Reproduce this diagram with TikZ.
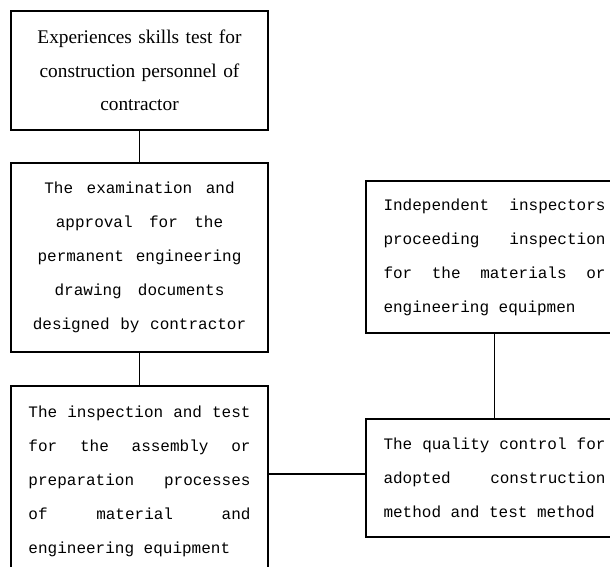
\documentclass[tikz,border=0pt]{standalone}
\usepackage{fontspec}
\setmainfont{Liberation Serif}
\newfontfamily\monof{Liberation Mono}
\tolerance=10000
\hbadness=10000

\begin{document}
\begin{tikzpicture}[x=0.75pt,y=-0.75pt,
  pbox/.style={draw,line width=0.8pt,inner xsep=0pt,inner ysep=0pt,minimum width=192.75pt},
  serifbox/.style={font={\fontsize{14.5}{25}\selectfont},text width=190pt,align=center},
  monobox/.style={font={\monof\fontsize{12}{25.5}\selectfont},text width=166.5pt,
    execute at begin node={\spaceskip=7.2pt plus 6pt\relax}},
  link/.style={line width=0.8pt}
  ] %[x,y in px of the picture]
\useasboundingbox (0,0) rectangle (610,567);
\clip (0,0) rectangle (610,567);

% left column
\node[pbox,serifbox,minimum height=89.25pt] (skill) at (139.5,70.5)
  {Experiences skills test for\\construction personnel of\\contractor};
\node[pbox,monobox,align=center,minimum height=141.75pt] (approval) at (139.5,257.5)
  {The examination and\\approval for the\\permanent engineering\\drawing documents\\designed by contractor};
\node[pbox,monobox,align=justify,minimum height=142.5pt] (assembly) at (139.5,481)
  {The inspection and test\linebreak for the assembly or\linebreak preparation processes\linebreak of material and\linebreak engineering equipment};

% right column
\node[pbox,monobox,align=justify,minimum height=114pt] (inspector) at (494.5,257)
  {Independent inspectors\linebreak proceeding inspection\linebreak for the materials or\linebreak engineering equipmen};
\node[pbox,monobox,align=justify,minimum height=88.5pt] (quality) at (494.5,478)
  {The quality control for\linebreak adopted construction\linebreak method and test method};

\coordinate (joint) at (316,474);

\draw[link] (skill) -- (approval);
\draw[link] (approval) -- (assembly);
\draw[link] (inspector) -- (quality);
\draw[link] (assembly.east |- joint) -- (quality.west |- joint);

\end{tikzpicture}
\end{document}
